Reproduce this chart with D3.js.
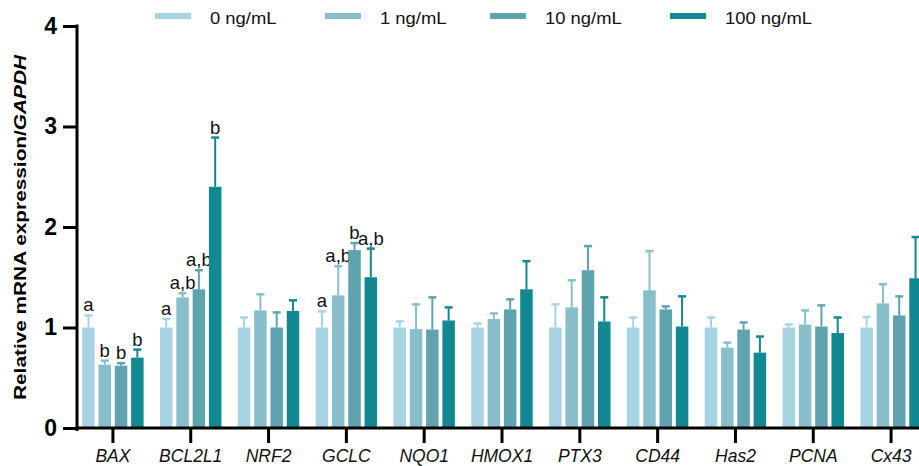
<!DOCTYPE html>
<html>
<head>
<meta charset="utf-8">
<script src="https://cdn.jsdelivr.net/npm/d3@7"></script>
<style>
  html, body { margin: 0; padding: 0; background: #fff; }
  svg { display: block; font-family: "Liberation Sans", Arial, sans-serif; }
</style>
</head>
<body>
<svg id="chart" width="919" height="466"></svg>
<script>
// Genes on the x axis
const genes = ["BAX", "BCL2L1", "NRF2", "GCLC", "NQO1", "HMOX1", "PTX3", "CD44", "Has2", "PCNA", "Cx43"];
// Treatment concentrations (legend)
const doses = ["0 ng/mL", "1 ng/mL", "10 ng/mL", "100 ng/mL"];
const doseColors = ["#a7d3e2", "#88bfca", "#5fa3ae", "#118892"];

// Mean relative expression per dose, one entry per gene
const mean0   = [1.00, 1.00, 1.00, 1.00, 1.00, 1.00, 1.00, 1.00, 1.00, 1.00, 1.00];
const mean1   = [0.63, 1.30, 1.17, 1.32, 0.985, 1.085, 1.20, 1.37, 0.80, 1.03, 1.24];
const mean10  = [0.62, 1.38, 1.00, 1.77, 0.98, 1.18, 1.57, 1.18, 0.98, 1.01, 1.12];
const mean100 = [0.70, 2.40, 1.165, 1.50, 1.07, 1.38, 1.06, 1.01, 0.75, 0.945, 1.49];

// Upper error (SD) per dose
const err0   = [0.12, 0.085, 0.10, 0.16, 0.06, 0.04, 0.23, 0.10, 0.10, 0.03, 0.105];
const err1   = [0.04, 0.04, 0.16, 0.29, 0.245, 0.055, 0.27, 0.39, 0.05, 0.14, 0.19];
const err10  = [0.025, 0.19, 0.15, 0.07, 0.32, 0.10, 0.24, 0.03, 0.07, 0.21, 0.19];
const err100 = [0.08, 0.49, 0.105, 0.285, 0.13, 0.28, 0.24, 0.30, 0.16, 0.155, 0.41];

// Significance letters per dose (empty = none)
const sig0   = ["a", "a", "", "a", "", "", "", "", "", "", ""];
const sig1   = ["b", "a,b", "", "a,b", "", "", "", "", "", "", ""];
const sig10  = ["b", "a,b", "", "b", "", "", "", "", "", "", ""];
const sig100 = ["b", "b", "", "a,b", "", "", "", "", "", "", ""];

// Y ticks
const yTicks = [0, 1, 2, 3, 4];

const means = [mean0, mean1, mean10, mean100];
const errs = [err0, err1, err10, err100];
const sigs = [sig0, sig1, sig10, sig100];

const rows = [];
genes.forEach((g, gi) => {
  doses.forEach((d, di) => {
    rows.push({ gene: g, dose: d, di, value: means[di][gi], err: errs[di][gi], sig: sigs[di][gi] });
  });
});

const svg = d3.select("#chart");
const axisX = 77, zeroY = 428;

const y = d3.scaleLinear().domain([0, 4]).range([zeroY, 26]);
const x0 = d3.scaleBand().domain(genes).range([74, 930]);
const x1 = d3.scaleBand().domain(doses)
  .range([(x0.bandwidth() - 61.4) / 2, (x0.bandwidth() + 61.4) / 2])
  .paddingInner(0.233);
const color = d3.scaleOrdinal().domain(doses).range(doseColors);

// Bars
const g = svg.append("g");
const bar = g.selectAll("g.bar").data(rows).join("g")
  .attr("transform", d => `translate(${x0(d.gene) + x1(d.dose)},0)`);

bar.append("rect")
  .attr("x", 0)
  .attr("y", d => y(d.value))
  .attr("width", x1.bandwidth())
  .attr("height", d => y(0) - y(d.value))
  .attr("fill", d => color(d.dose));

// Upper error bars
const bw = x1.bandwidth();
bar.append("line")
  .attr("x1", bw / 2).attr("x2", bw / 2)
  .attr("y1", d => y(d.value)).attr("y2", d => y(d.value + d.err))
  .attr("stroke", d => color(d.dose)).attr("stroke-width", 2);
bar.append("line")
  .attr("x1", bw / 2 - 4).attr("x2", bw / 2 + 4)
  .attr("y1", d => y(d.value + d.err)).attr("y2", d => y(d.value + d.err))
  .attr("stroke", d => color(d.dose)).attr("stroke-width", 2.5);

// Significance letters
bar.filter(d => d.sig).append("text")
  .attr("x", bw / 2)
  .attr("y", d => y(d.value + d.err) - 4)
  .attr("text-anchor", "middle")
  .attr("font-size", 18.5)
  .attr("fill", "#111")
  .text(d => d.sig);

// Y axis
const yAxis = d3.axisLeft(y).tickValues(yTicks).tickSize(14).tickPadding(6).tickFormat(d3.format("d"));
const ya = svg.append("g").attr("transform", `translate(${axisX},0)`).call(yAxis);
ya.select(".domain").remove();
ya.selectAll(".tick line").attr("stroke", "#000").attr("stroke-width", 3);
ya.selectAll(".tick text").attr("font-size", 23).attr("font-weight", "bold")
  .attr("font-family", "'Liberation Sans', Arial, sans-serif").attr("fill", "#000");
svg.append("line")
  .attr("x1", axisX).attr("x2", axisX)
  .attr("y1", y(4) - 1.5).attr("y2", zeroY + 3)
  .attr("stroke", "#000").attr("stroke-width", 3);

// X axis
const xAxis = d3.axisBottom(x0).tickSize(15).tickPadding(7);
const xa = svg.append("g").attr("transform", `translate(0,${zeroY})`).call(xAxis);
xa.select(".domain").remove();
xa.selectAll(".tick line").attr("stroke", "#000").attr("stroke-width", 3);
xa.selectAll(".tick text").attr("font-size", 17.5).attr("font-style", "italic")
  .attr("font-family", "'Liberation Sans', Arial, sans-serif").attr("fill", "#111");
svg.append("line")
  .attr("x1", axisX - 1.5).attr("x2", 919)
  .attr("y1", zeroY).attr("y2", zeroY)
  .attr("stroke", "#000").attr("stroke-width", 3);

// Y axis title
const title = svg.append("text")
  .attr("transform", `translate(26,${(55 + 400) / 2}) rotate(-90)`)
  .attr("text-anchor", "middle")
  .attr("font-size", 17).attr("font-weight", "bold")
  .attr("textLength", 345).attr("lengthAdjust", "spacingAndGlyphs");
title.append("tspan").text("Relative mRNA expression/");
title.append("tspan").attr("font-style", "italic").text("GAPDH");

// Legend
const legendX = [155, 325, 490, 670];
const legend = svg.append("g");
const item = legend.selectAll("g").data(doses).join("g")
  .attr("transform", (d, i) => `translate(${legendX[i]},0)`);
item.append("rect")
  .attr("x", 0).attr("y", 13).attr("width", 36).attr("height", 6)
  .attr("fill", d => color(d));
item.append("text")
  .attr("x", 55).attr("y", 23.5)
  .attr("font-size", 16).attr("fill", "#111")
  .text(d => d)
  .each(function () {
    const len = this.getComputedTextLength();
    d3.select(this).attr("textLength", len * 1.15).attr("lengthAdjust", "spacingAndGlyphs");
  });
</script>
</body>
</html>
